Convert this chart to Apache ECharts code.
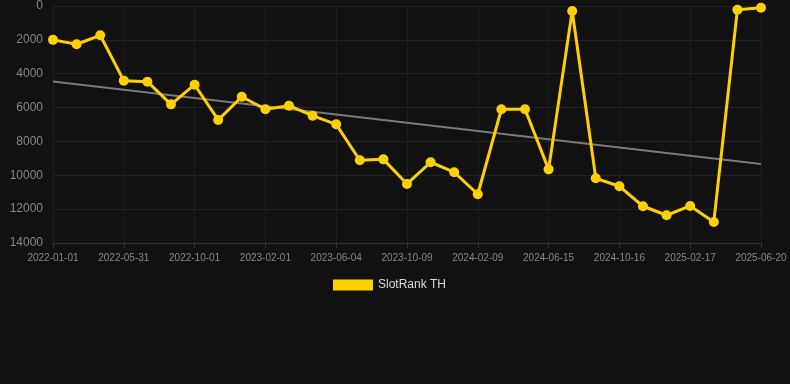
<!DOCTYPE html>
<html>
<head>
<meta charset="utf-8">
<script src="https://cdn.jsdelivr.net/npm/echarts@6/dist/echarts.min.js"></script>
<style>
html,body{margin:0;padding:0;background:#111111;}
#c{width:790px;height:384px;}
</style>
</head>
<body>
<div id="c"></div>
<script>
var categories = [
  '2022-01-01','2022-02-20','2022-04-10','2022-05-31','2022-07-11','2022-08-21','2022-10-01','2022-11-11','2022-12-22','2023-02-01',
  '2023-03-15','2023-04-24','2023-06-04','2023-07-16','2023-08-27','2023-10-09','2023-11-19','2023-12-30','2024-02-09','2024-03-21',
  '2024-05-03','2024-06-15','2024-07-26','2024-09-05','2024-10-16','2024-11-26','2025-01-07','2025-02-17','2025-03-31','2025-05-10','2025-06-20'
];
var rankValues = [
  2000, 2260, 1730, 4410, 4470, 5810, 4650, 6730, 5360, 6100,
  5890, 6480, 6990, 9110, 9060, 10510, 9230, 9820, 11120, 6100,
  6100, 9650, 300, 10180, 10650, 11830, 12360, 11810, 12760, 220, 100
];
var yTicks = { min: 0, max: 14000, interval: 2000 };

// least-squares trend of the series
function trend(vals) {
  var n = vals.length, sx = 0, sy = 0, sxy = 0, sxx = 0;
  for (var i = 0; i < n; i++) { sx += i; sy += vals[i]; sxy += i * vals[i]; sxx += i * i; }
  var b = (n * sxy - sx * sy) / (n * sxx - sx * sx);
  var a = (sy - b * sx) / n;
  return vals.map(function (_, i) { return a + b * i; });
}
var trendValues = trend(rankValues);

var chart = echarts.init(document.getElementById('c'), null, { renderer: 'canvas' });
chart.setOption({
  backgroundColor: '#111111',
  animation: false,
  grid: { left: 53, right: 29, top: 6, bottom: 141, containLabel: false },
  legend: {
    data: [{ name: 'SlotRank TH', icon: 'rect' }],
    bottom: 88,
    left: 328,
    itemWidth: 40,
    itemHeight: 11,
    itemGap: 10,
    textStyle: { color: '#dddddd', fontSize: 12, fontFamily: 'Liberation Sans, Arial, sans-serif' }
  },
  xAxis: {
    type: 'category',
    data: categories,
    boundaryGap: false,
    axisLine: { onZero: false, lineStyle: { color: '#333333' } },
    axisTick: { show: true, interval: 2, lineStyle: { color: '#333333' } },
    axisLabel: { interval: 2, color: '#888888', fontSize: 10, margin: 10, fontFamily: 'Liberation Sans, Arial, sans-serif' },
    splitLine: { show: true, interval: 2, lineStyle: { color: '#1e1e1e', width: 1 } }
  },
  yAxis: {
    type: 'value',
    inverse: true,
    min: yTicks.min,
    max: yTicks.max,
    interval: yTicks.interval,
    axisLine: { show: false },
    axisTick: { show: false },
    axisLabel: { color: '#888888', fontSize: 12, margin: 10, fontFamily: 'Liberation Sans, Arial, sans-serif',
      formatter: function (v) { return String(v); } },
    splitLine: { lineStyle: { color: '#222222', width: 1 } }
  },
  series: [
    {
      name: 'SlotRank TH',
      type: 'line',
      data: rankValues,
      symbol: 'circle',
      symbolSize: 10,
      showAllSymbol: true,
      lineStyle: { color: '#ffd000', width: 3 },
      itemStyle: { color: '#ffd000' },
      z: 3
    },
    {
      name: 'trend',
      type: 'line',
      data: trendValues,
      symbol: 'none',
      lineStyle: { color: '#7a7a7a', width: 2 },
      itemStyle: { color: '#7a7a7a' },
      silent: true,
      z: 2
    }
  ]
});
</script>
</body>
</html>
